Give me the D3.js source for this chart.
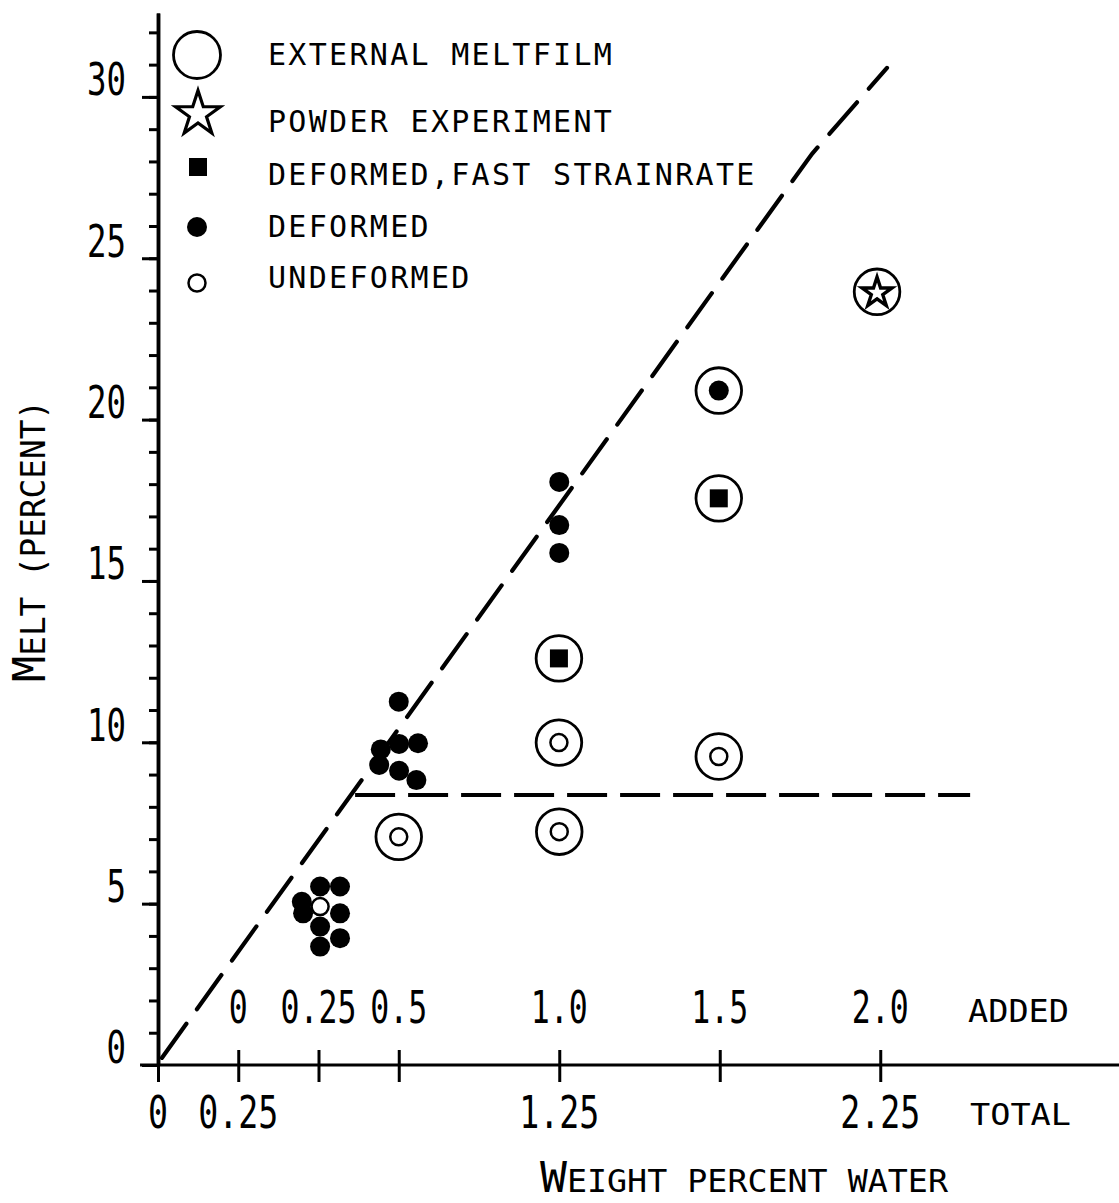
<!DOCTYPE html>
<html>
<head>
<meta charset="utf-8">
<script src="https://cdn.jsdelivr.net/npm/d3@7"></script>
<style>
  html, body { margin: 0; padding: 0; background: #fff; }
  svg { display: block; }
  text { font-family: "DejaVu Sans Mono", monospace; fill: #000; }
</style>
</head>
<body>
<svg id="chart" width="1119" height="1203"></svg>
<script>
// ---- data: [total weight percent water, melt percent] ----
const deformed = [
  [0.505, 5.53], [0.567, 5.53], [0.448, 5.06], [0.452, 4.70], [0.567, 4.70],
  [0.505, 4.29], [0.567, 3.93], [0.505, 3.67],
  [0.750, 11.26], [0.694, 9.78], [0.751, 9.95], [0.810, 9.97],
  [0.689, 9.30], [0.751, 9.12], [0.805, 8.83],
  [1.250, 18.07], [1.250, 16.73], [1.250, 15.87],
  [1.747, 20.90]
];
const deformedFast = [[1.249, 12.60], [1.747, 17.56]];
const undeformed = [[0.505, 4.91], [0.750, 7.07], [1.249, 9.99], [1.250, 7.23], [1.747, 9.56]];
const powder = [[2.240, 23.96]];
const meltfilm = [
  [0.750, 7.07], [1.249, 9.99], [1.250, 7.23], [1.249, 12.60],
  [1.747, 9.56], [1.747, 17.56], [1.747, 20.90], [2.240, 23.96]
];

// dashed guide lines
const saturationLine = [[0.012, 0.22], [2.037, 28.23], [2.271, 30.90]];
const plateauLine = [[0.614, 8.37], [2.530, 8.37]];

// ---- axis ticks and labels ----
const yMajorTicks = [0, 5, 10, 15, 20, 25, 30];
const yMinorTicks = d3.range(0, 33, 1);
const totalTicks = [0, 0.25, 0.5, 0.75, 1.25, 1.75, 2.25];
const totalLabelPos = [0, 0.25, 1.25, 2.25];
const totalLabels = ["0", "0.25", "1.25", "2.25"];
const addedLabelPos = [0.25, 0.5, 0.75, 1.25, 1.75, 2.25];
const addedLabels = ["0", "0.25", "0.5", "1.0", "1.5", "2.0"];

const legendLabels = ["EXTERNAL MELTFILM", "POWDER EXPERIMENT", "DEFORMED,FAST STRAINRATE", "DEFORMED", "UNDEFORMED"];
const legendKeys = ["meltfilm", "powder", "fast", "deformed", "undeformed"];

// ---- scales ----
const x = d3.scaleLinear().domain([0, 3]).range([158, 1121]);
const y = d3.scaleLinear().domain([0, 32.6]).range([1065, 13]);

const svg = d3.select("#chart");
svg.append("rect").attr("width", 1119).attr("height", 1203).attr("fill", "#fff");

// ---- y axis: minor then major ticks ----
const yMinorAxis = d3.axisLeft(y).tickValues(yMinorTicks).tickSize(9).tickSizeOuter(0).tickFormat("");
const yMajorAxis = d3.axisLeft(y).tickValues(yMajorTicks).tickSize(16).tickSizeOuter(0)
  .tickPadding(16).tickFormat(d3.format("d"));

const gy1 = svg.append("g").attr("transform", `translate(${x(0)},0)`).call(yMinorAxis);
const gy2 = svg.append("g").attr("transform", `translate(${x(0)},0)`).call(yMajorAxis);
[gy1, gy2].forEach(g => {
  g.selectAll("path.domain").attr("stroke", "#000").attr("stroke-width", 3.5);
  g.selectAll(".tick line").attr("stroke", "#000").attr("stroke-width", 3);
});
gy2.selectAll(".tick text")
  .attr("font-size", 44)
  .attr("font-family", "DejaVu Sans Mono, monospace")
  .attr("dy", "-0.05em")
  .attr("fill", "#000")
  .each(function () {
    const t = d3.select(this);
    t.attr("textLength", t.text().length * 19.5).attr("lengthAdjust", "spacingAndGlyphs");
  });

// ---- x axis: line, crossing ticks ----
svg.append("line")
  .attr("x1", x(-0.056)).attr("x2", 1119)
  .attr("y1", y(0)).attr("y2", y(0))
  .attr("stroke", "#000").attr("stroke-width", 3.2);

const xAxis = d3.axisBottom(x).tickValues(totalTicks).tickSize(17).tickSizeOuter(0).tickFormat("");
const gx = svg.append("g").attr("transform", `translate(0,${y(0)})`).call(xAxis);
gx.select("path.domain").remove();
gx.selectAll(".tick line").attr("y1", -15).attr("stroke", "#000").attr("stroke-width", 3);

// condensed lettering: monospace glyphs scaled horizontally to the given pitch
const MONO_ADVANCE = 0.602;
function condensedText(g, str, px, py, size, pitch) {
  const sx = pitch / (MONO_ADVANCE * size);
  return g.append("text")
    .attr("transform", `translate(${px},${py}) scale(${sx},1)`)
    .attr("font-size", size)
    .attr("text-anchor", "middle")
    .text(str);
}

const labels = svg.append("g");
totalLabelPos.forEach((v, i) => condensedText(labels, totalLabels[i], x(v), 1128, 44, 20));
addedLabelPos.forEach((v, i) => condensedText(labels, addedLabels[i], x(v), 1023, 44, 19));

labels.append("text").attr("x", 968).attr("y", 1022).attr("font-size", 32)
  .attr("textLength", 101).attr("lengthAdjust", "spacingAndGlyphs").text("ADDED");
labels.append("text").attr("x", 970).attr("y", 1125).attr("font-size", 30)
  .attr("textLength", 101).attr("lengthAdjust", "spacingAndGlyphs").text("TOTAL");

// axis titles, small-caps style
const xt = labels.append("text").attr("x", 540).attr("y", 1192)
  .attr("textLength", 408).attr("lengthAdjust", "spacingAndGlyphs");
xt.append("tspan").attr("font-size", 43).text("W");
xt.append("tspan").attr("font-size", 32).text("EIGHT PERCENT WATER");

const yt = labels.append("text").attr("transform", "translate(45,682) rotate(-90)")
  .attr("textLength", 282).attr("lengthAdjust", "spacingAndGlyphs");
yt.append("tspan").attr("font-size", 44).text("M");
yt.append("tspan").attr("font-size", 33).text("ELT (PERCENT)");

// ---- dashed guide lines ----
const line = d3.line().x(d => x(d[0])).y(d => y(d[1]));
svg.append("path").datum(saturationLine).attr("d", line)
  .attr("fill", "none").attr("stroke", "#000").attr("stroke-width", 4.2)
  .attr("stroke-linecap", "round").attr("stroke-dasharray", "42 18");
svg.append("path").datum(plateauLine).attr("d", line)
  .attr("fill", "none").attr("stroke", "#000").attr("stroke-width", 4)
  .attr("stroke-dasharray", "40 13");

// ---- markers ----
const RING_R = 22.8, DOT_R = 10, OPEN_R = 8.5;
const starBig = d3.symbol().type(d3.symbolStar).size(23.5 * 23.5 / 0.8908130915292852);
const starSmall = d3.symbol().type(d3.symbolStar).size(15.8 * 15.8 / 0.8908130915292852);
const square = d3.symbol().type(d3.symbolSquare).size(18 * 18);

const marks = svg.append("g");
marks.selectAll("circle.ring").data(meltfilm).join("circle").attr("class", "ring")
  .attr("cx", d => x(d[0])).attr("cy", d => y(d[1])).attr("r", RING_R)
  .attr("fill", "none").attr("stroke", "#000").attr("stroke-width", 2.8);

marks.selectAll("circle.def").data(deformed).join("circle").attr("class", "def")
  .attr("cx", d => x(d[0])).attr("cy", d => y(d[1])).attr("r", DOT_R).attr("fill", "#000");

marks.selectAll("path.fast").data(deformedFast).join("path").attr("class", "fast")
  .attr("transform", d => `translate(${x(d[0])},${y(d[1])})`).attr("d", square).attr("fill", "#000");

marks.selectAll("circle.und").data(undeformed).join("circle").attr("class", "und")
  .attr("cx", d => x(d[0])).attr("cy", d => y(d[1])).attr("r", OPEN_R)
  .attr("fill", "#fff").attr("stroke", "#000").attr("stroke-width", 2.5);

marks.selectAll("path.powder").data(powder).join("path").attr("class", "powder")
  .attr("transform", d => `translate(${x(d[0])},${y(d[1]) + 1})`).attr("d", starSmall)
  .attr("fill", "#fff").attr("stroke", "#000").attr("stroke-width", 3.4).attr("stroke-linejoin", "miter");

// ---- legend ----
const legendY = [55, 114, 167, 227, 283];
const legendTextY = [65, 132, 185, 237, 288];
const lg = svg.append("g");
legendKeys.forEach((k, i) => {
  const cy = legendY[i], cx = 197;
  if (k === "meltfilm") {
    lg.append("circle").attr("cx", cx).attr("cy", cy).attr("r", 23.5)
      .attr("fill", "none").attr("stroke", "#000").attr("stroke-width", 2.8);
  } else if (k === "powder") {
    lg.append("path").attr("transform", `translate(${cx + 1},${cy})`).attr("d", starBig)
      .attr("fill", "#fff").attr("stroke", "#000").attr("stroke-width", 3.2);
  } else if (k === "fast") {
    lg.append("path").attr("transform", `translate(${cx + 1},${cy})`).attr("d", square).attr("fill", "#000");
  } else if (k === "deformed") {
    lg.append("circle").attr("cx", cx).attr("cy", cy).attr("r", DOT_R).attr("fill", "#000");
  } else {
    lg.append("circle").attr("cx", cx).attr("cy", cy).attr("r", OPEN_R)
      .attr("fill", "#fff").attr("stroke", "#000").attr("stroke-width", 2.5);
  }
  lg.append("text").attr("x", 268).attr("y", legendTextY[i])
    .attr("font-size", 30).attr("letter-spacing", 2.3).text(legendLabels[i]);
});
</script>
</body>
</html>
